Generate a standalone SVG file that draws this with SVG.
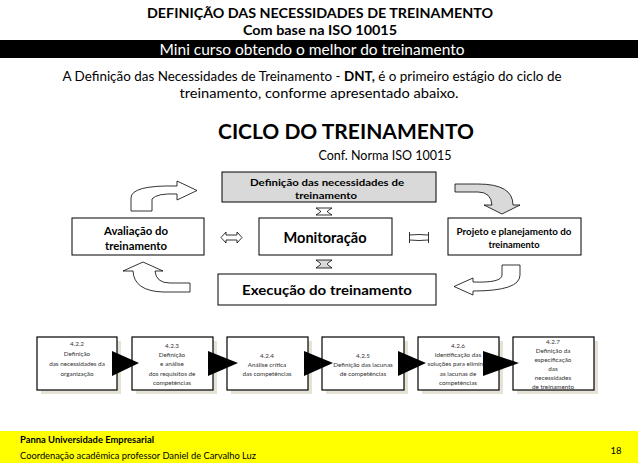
<svg xmlns="http://www.w3.org/2000/svg" width="638" height="463" viewBox="0 0 638 463">
<style>
text{font-family:Lato,"Open Sans","Liberation Sans",sans-serif;fill:#000;text-anchor:middle}
.b{font-weight:bold}
.box{fill:#fff;stroke:#000;stroke-width:1}
.gbox{fill:#d9d9d9;stroke:#000;stroke-width:1}
.arw{fill:#fff;stroke:#000;stroke-width:0.8}
.garw{fill:#d9d9d9;stroke:#000;stroke-width:0.8}
.sm{font-size:6.3px;fill:#333}
.pbox{fill:#fff;stroke:#000;stroke-width:1.2}
.shadow{fill:#e6e2d6}
.tri{fill:#000}
</style>
<rect width="638" height="463" fill="#fff"/>
<g id="header">
<text x="320" y="18" class="b" font-size="14" textLength="346" lengthAdjust="spacingAndGlyphs">DEFINIÇÃO DAS NECESSIDADES DE TREINAMENTO</text>
<text x="320" y="35" class="b" font-size="14" textLength="154" lengthAdjust="spacingAndGlyphs">Com base na ISO 10015</text>
<rect x="0" y="40" width="638" height="18" fill="#000"/>
<text x="312" y="55" font-size="15" style="fill:#fff" textLength="305" lengthAdjust="spacingAndGlyphs">Mini curso obtendo o melhor do treinamento</text>
<text x="312" y="81" font-size="13" textLength="499" lengthAdjust="spacingAndGlyphs">A Definição das Necessidades de Treinamento - <tspan class="b">DNT,</tspan> é o primeiro estágio do ciclo de</text>
<text x="319" y="98" font-size="13" textLength="279" lengthAdjust="spacingAndGlyphs">treinamento, conforme apresentado abaixo.</text>
<text x="346" y="139" class="b" font-size="21" textLength="256" lengthAdjust="spacingAndGlyphs">CICLO DO TREINAMENTO</text>
<text x="385" y="160" font-size="12.5" textLength="133" lengthAdjust="spacingAndGlyphs">Conf. Norma ISO 10015</text>
</g>
<g id="node-dnt">
<rect x="222" y="172" width="214" height="30" class="gbox"/>
<text x="327" y="186" class="b" font-size="10" textLength="154" lengthAdjust="spacingAndGlyphs">Definição das necessidades de</text>
<text x="326" y="199" class="b" font-size="10" textLength="62" lengthAdjust="spacingAndGlyphs">treinamento</text>
</g>
<g id="node-avaliacao">
<rect x="72" y="218" width="132" height="37" class="box"/>
<text x="136" y="235" class="b" font-size="10.5" textLength="64" lengthAdjust="spacingAndGlyphs">Avaliação do</text>
<text x="136" y="250" class="b" font-size="10.5" textLength="62" lengthAdjust="spacingAndGlyphs">treinamento</text>
</g>
<g id="node-monitoracao">
<rect x="259" y="218" width="133" height="37" class="box"/>
<text x="325" y="243" class="b" font-size="15" textLength="83" lengthAdjust="spacingAndGlyphs">Monitoração</text>
</g>
<g id="node-projeto">
<rect x="448" y="218" width="133" height="37" class="box"/>
<text x="514" y="235" class="b" font-size="8.5" textLength="115" lengthAdjust="spacingAndGlyphs">Projeto e planejamento do</text>
<text x="514" y="248" class="b" font-size="8.5" textLength="51" lengthAdjust="spacingAndGlyphs">treinamento</text>
</g>
<g id="node-execucao">
<rect x="218" y="274" width="218" height="31" class="box"/>
<text x="327" y="295" class="b" font-size="14" textLength="170" lengthAdjust="spacingAndGlyphs">Execução do treinamento</text>
</g>
<g id="connectors">
<path class="arw" d="M131,211 L131,198 Q131,185 177,186 L177,181 L197,190.5 L177,200 L177,194 Q157,193 152,199 L152,211 Z"/>
<path class="garw" d="M455,184 L478,184 Q513,184 513,205 L520,205 L502,214 L484,205 L492,205 Q491,192 478,192 L455,192 Z"/>
<path class="arw" d="M520,265 L520,275 Q520,291 473,291 L473,295 L454,286.5 L473,278 L473,282 Q502,283 502,275 L502,265 Z"/>
<path class="arw" d="M190,292 L163,292 Q134,291 133,271 L123,271 L143,262 L163,271 L155,271 Q156,283 170,283 L190,283 Z"/>
<path class="arw" d="M221,237.5 L226,232 L226,235 L237,235 L237,232 L242,237.5 L237,243 L237,240 L226,240 L226,243 Z"/>
<path fill="none" stroke="#000" stroke-width="0.8" d="M409.5,232 L409.5,243 M428.5,232 L428.5,243 M409.5,235 Q419,234 428.5,235 M409.5,240 Q419,241 428.5,240"/>
<path class="arw" d="M316,208 L332,208 L327.5,211 L327.5,212 L332,215 L316,215 L320.5,212 L320.5,211 Z"/>
<path class="garw" d="M316,260 L332,260 L327.5,263.5 L327.5,264.5 L332,268 L316,268 L320.5,264.5 L320.5,263.5 Z"/>
</g>
<g id="process">
<rect x="41" y="341" width="80" height="53" class="shadow"/>
<rect x="136" y="341" width="81" height="53" class="shadow"/>
<rect x="231" y="341" width="81" height="53" class="shadow"/>
<rect x="326" y="341" width="82" height="53" class="shadow"/>
<rect x="422" y="341" width="81" height="53" class="shadow"/>
<rect x="517" y="341" width="81" height="53" class="shadow"/>
<g id="step-422">
<rect x="37" y="337" width="80" height="53" class="pbox"/>
<text class="sm" x="77" y="346">4.2.2</text>
<text class="sm" x="77" y="356">Definição</text>
<text class="sm" x="77" y="366">das necessidades da</text>
<text class="sm" x="77" y="376">organização</text>
</g>
<g id="step-423">
<rect x="132" y="337" width="81" height="53" class="pbox"/>
<text class="sm" x="172" y="348">4.2.3</text>
<text class="sm" x="172" y="357">Definição</text>
<text class="sm" x="172" y="366">e análise</text>
<text class="sm" x="172" y="376">dos requisitos de</text>
<text class="sm" x="172" y="385">competências</text>
</g>
<g id="step-424">
<rect x="227" y="337" width="81" height="53" class="pbox"/>
<text class="sm" x="267" y="358">4.2.4</text>
<text class="sm" x="267" y="367">Análise crítica</text>
<text class="sm" x="267" y="376">das competências</text>
</g>
<g id="step-425">
<rect x="322" y="337" width="82" height="53" class="pbox"/>
<text class="sm" x="363" y="358">4.2.5</text>
<text class="sm" x="363" y="367">Definição das lacunas</text>
<text class="sm" x="363" y="376">de competências</text>
</g>
<g id="step-426">
<rect x="418" y="337" width="81" height="53" class="pbox"/>
<text class="sm" x="458" y="348">4.2.6</text>
<text class="sm" x="458" y="357">Identificação das</text>
<text class="sm" x="458" y="366">soluções para eliminar</text>
<text class="sm" x="458" y="376">as lacunas de</text>
<text class="sm" x="458" y="385">competências</text>
</g>
<g id="step-427">
<rect x="513" y="337" width="81" height="53" class="pbox"/>
<text class="sm" x="553" y="344">4.2.7</text>
<text class="sm" x="553" y="353">Definição da</text>
<text class="sm" x="553" y="362">especificação</text>
<text class="sm" x="553" y="371">das</text>
<text class="sm" x="553" y="380">necessidades</text>
<text class="sm" x="553" y="389">de treinamento</text>
</g>
<polygon class="tri" points="112,351 139,363 112,376"/>
<polygon class="tri" points="208,351 238,363 208,376"/>
<polygon class="tri" points="304,351 333,363 304,376"/>
<polygon class="tri" points="398,351 426,363 398,376"/>
<polygon class="tri" points="483,351 519,363 483,376"/>
</g>
<g id="footer">
<rect x="0" y="431" width="638" height="32" fill="#ffff00"/>
<text x="20" y="443" class="b" font-size="9" style="text-anchor:start" textLength="134" lengthAdjust="spacingAndGlyphs">Panna Universidade Empresarial</text>
<text x="20" y="459" font-size="9.5" style="text-anchor:start" textLength="236" lengthAdjust="spacingAndGlyphs">Coordenação acadêmica professor Daniel de Carvalho Luz</text>
<text x="616" y="454" font-size="9.5">18</text>
</g>
</svg>
